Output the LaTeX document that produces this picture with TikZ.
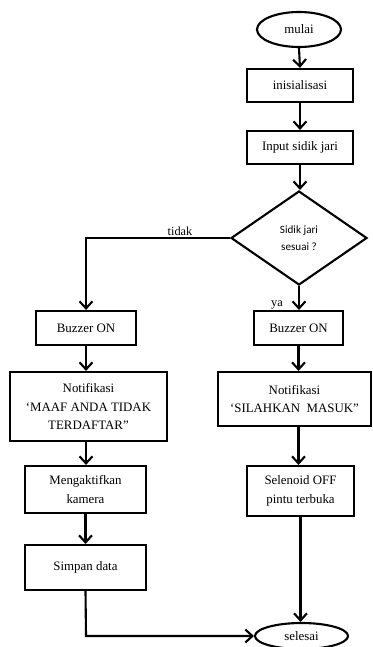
\documentclass[tikz,border=0pt]{standalone}
\usepackage{fontspec}
\setmainfont{Liberation Serif}
\newfontfamily\diafont{Carlito}
\usetikzlibrary{shapes.geometric,arrows.meta}
\begin{document}
\begin{tikzpicture}[x=0.03cm,y=-0.03cm,
  line width=1.8pt,
  every node/.style={font=\fontsize{11}{16}\selectfont},
  box/.style={draw,rectangle,align=center,inner sep=0pt},
  term/.style={draw,ellipse,inner sep=0pt},
  flow/.style={-{Straight Barb[length=6pt,width=11pt]}},
  lbl/.style={font=\fontsize{10.5}{12}\selectfont}
]
\useasboundingbox (0,0) rectangle (373,647);
\node[term,minimum width=2.52cm,minimum height=1.05cm] (mulai) at (299,29.5) {mulai};
\node[box,minimum width=3.18cm,minimum height=0.99cm] (init) at (300,85.5) {inisialisasi};
\node[box,minimum width=3.18cm,minimum height=0.99cm] (input) at (300,147.5) {Input sidik jari};
\node[draw,diamond,minimum width=4.08cm,minimum height=2.82cm,inner sep=0pt,align=center,
  font=\diafont\fontsize{9.5}{15}\selectfont] (dec) at (299,238) {Sidik jari\\sesuai ?};
\node[box,minimum width=3.0cm,minimum height=1.02cm] (bL) at (86,328) {Buzzer ON};
\node[box,minimum width=2.67cm,minimum height=1.02cm] (bR) at (298.5,328) {Buzzer ON};
\node[box,minimum width=4.71cm,minimum height=2.07cm] (nL) at (88.5,406.5) {Notifikasi\\‘MAAF ANDA TIDAK\\TERDAFTAR”};
\node[box,minimum width=4.6cm,minimum height=1.62cm] (nR) at (294.5,399) {Notifikasi\\‘SILAHKAN~~MASUK”};
\node[box,minimum width=3.63cm,minimum height=1.41cm] (mL) at (85.5,489.5) {Mengaktifkan\\kamera};
\node[box,minimum width=3.21cm,minimum height=1.5cm] (sR) at (300.5,491) {Selenoid OFF\\pintu terbuka};
\node[box,minimum width=3.63cm,minimum height=1.35cm] (simpan) at (85.5,567.5) {Simpan data};
\node[term,minimum width=2.79cm,minimum height=0.78cm] (selesai) at (301.5,636) {selesai};
\coordinate (tk) at (86,238);
\coordinate (sk) at (86,636);
\node[lbl] (tidak) at (180,231) {tidak};
\node[lbl] (ya) at (277,305) {ya};
\draw[flow] (mulai.south) -- (init.north);
\draw[flow] (init.south) -- (input.north);
\draw[flow] (input.south) -- (input.south |- dec.north);
\draw[flow] (dec.west) -- (tk) -- (bL.north);
\draw[flow] (dec.south) -- (dec.south |- bR.north);
\draw[flow] (bL.south) -- (bL.south |- nL.north);
\draw[flow] (bR.south) -- (bR.south |- nR.north);
\draw[flow] (nL.south -| bL.south) -- (bL.south |- mL.north);
\draw[flow] (nR.south -| bR.south) -- (bR.south |- sR.north);
\draw[flow] (mL.south) -- (simpan.north);
\draw[flow] (simpan.south) -- (sk) -- (selesai.west);
\draw[flow] (sR.south) -- (sR.south |- selesai.north);
\end{tikzpicture}
\end{document}
